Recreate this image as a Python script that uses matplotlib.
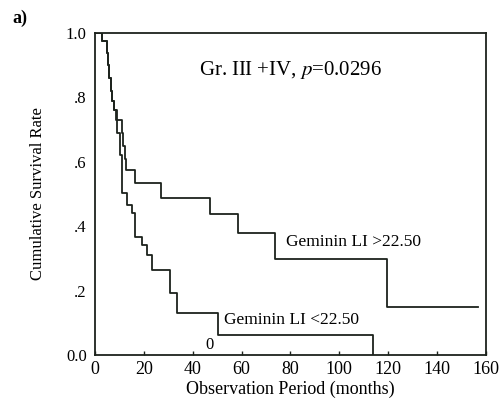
import matplotlib
matplotlib.use("Agg")
import matplotlib.pyplot as plt

plt.rcParams['font.family'] = ['Liberation Serif', 'DejaVu Serif']
plt.rcParams['mathtext.fontset'] = 'stix'

# Kaplan-Meier estimates (months, survival)
hi_t = [0, 3, 4.9, 5.4, 5.9, 6.4, 7, 7.6, 8.6, 11, 11.6, 12.2, 12.7, 16.4, 27, 47, 58.5, 73.6, 119.5, 156.7]
hi_s = [1.0, 0.975, 0.938, 0.90, 0.86, 0.82, 0.79, 0.76, 0.73, 0.69, 0.65, 0.61, 0.575, 0.534, 0.488, 0.438, 0.379, 0.298, 0.149, 0.149]

lo_t = [0, 3, 4.9, 5.4, 5.9, 6.4, 7, 7.6, 9, 10.2, 10.9, 13.1, 15.1, 16.4, 19.2, 21.3, 23.3, 30.7, 33.6, 50.3, 113.7]
lo_s = [1.0, 0.975, 0.938, 0.90, 0.86, 0.82, 0.79, 0.76, 0.69, 0.62, 0.503, 0.466, 0.441, 0.366, 0.342, 0.311, 0.264, 0.193, 0.130, 0.062, 0.0]

xticks = [0, 20, 40, 60, 80, 100, 120, 140, 160]
yticks = [0.0, 0.2, 0.4, 0.6, 0.8, 1.0]
ylabels = ['0.0', '.2', '.4', '.6', '.8', '1.0']

fig = plt.figure(figsize=(5.04, 4.11), dpi=100)
ax = fig.add_axes([0.1885, 0.1363, 0.7755, 0.7834])
col = '#1c221c'

ax.step(hi_t, hi_s, where='post', color=col, lw=1.3)
ax.step(lo_t, lo_s, where='post', color=col, lw=1.3)

ax.set_xlim(0, 160)
ax.set_ylim(0, 1.0)
ax.set_xticks(xticks)
ax.set_xticklabels([str(v) for v in xticks], fontsize=13)
ax.set_yticks(yticks)
ax.set_yticklabels(ylabels, fontsize=12)
ax.tick_params(axis='x', direction='in', length=3, width=1, pad=4, color=col)
ax.tick_params(axis='y', length=0, pad=6)
for s in ax.spines.values():
    s.set_color(col)
    s.set_linewidth(1.3)

ax.set_xlabel('Observation Period (months)', fontsize=13, labelpad=2)
ax.set_ylabel('Cumulative Survival Rate', fontsize=12, labelpad=14)

ax.text(0.5, 0.885, r'Gr. III +IV, $\it{p}$=0.0296', transform=ax.transAxes,
        ha='center', va='center', fontsize=15)
ax.text(78, 0.35, 'Geminin LI >22.50', fontsize=12.5, ha='left', va='center')
ax.text(53, 0.11, 'Geminin LI <22.50', fontsize=12.5, ha='left', va='center')
ax.text(47, 0.03, '0', fontsize=12, ha='center', va='center')

fig.text(0.024, 0.955, 'a)', fontsize=13, fontweight='bold', ha='left', va='center')

fig.savefig('out.png', dpi=100)
